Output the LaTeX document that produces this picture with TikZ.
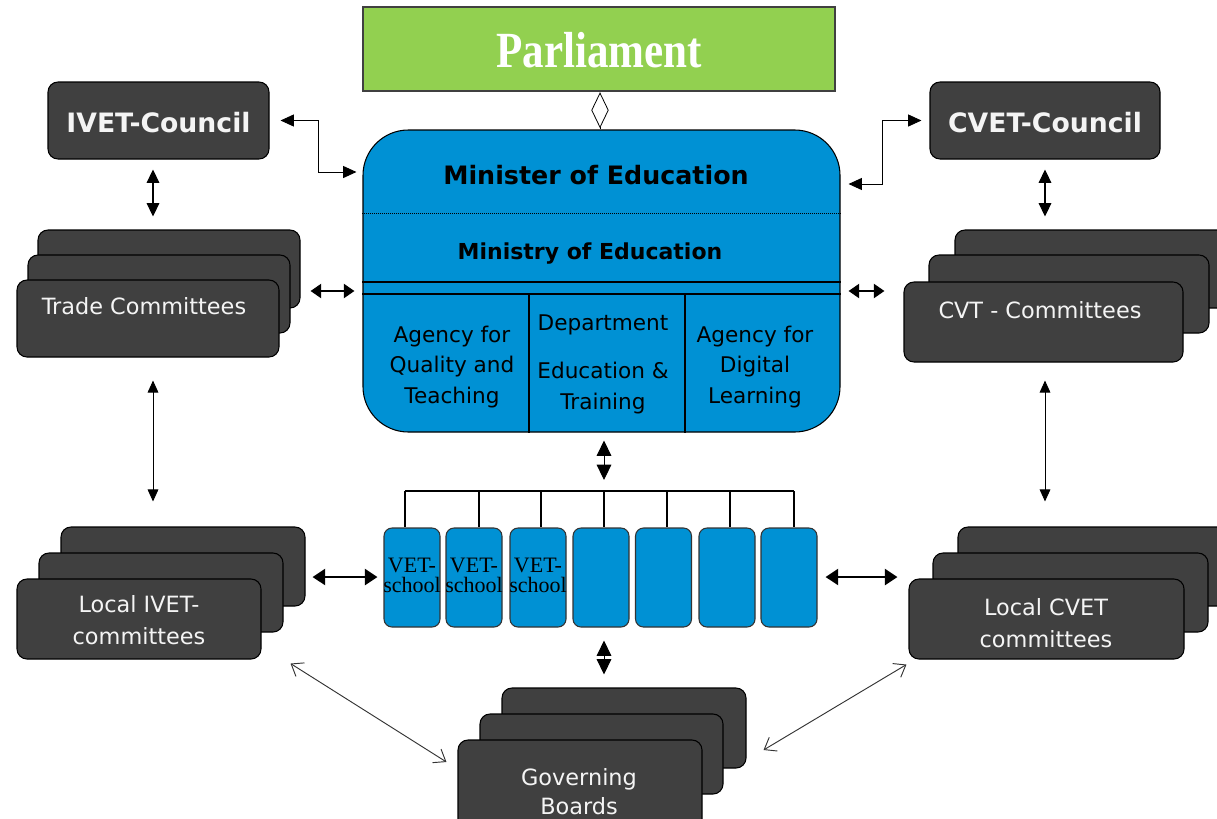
\documentclass[tikz,border=0pt]{standalone}
\usepackage{fontspec}
\usepackage{graphicx}
\usetikzlibrary{arrows.meta}
\newfontfamily\dvs{DejaVu Sans}
\newfontfamily\lserif{Liberation Serif}
\definecolor{dark}{HTML}{404040}
\definecolor{blu}{HTML}{0091D4}
\definecolor{grn}{HTML}{92D050}
\definecolor{wt}{HTML}{F4F4F4}
\begin{document}
\begin{tikzpicture}[x=0.75pt,y=-0.75pt,
  sz/.style 2 args={minimum width=#1*0.75pt, minimum height=#2*0.75pt},
  darkbox/.style={draw=black, line width=0.8pt, fill=dark, rounded corners=7.5pt, inner sep=0pt},
  vbox/.style={draw=black!80, line width=0.8pt, fill=blu, rounded corners=6pt, inner sep=0pt, minimum width=42pt, minimum height=74.25pt},
  wtxt/.style={text=wt, font=\dvs\fontsize{16.8}{24}\selectfont, align=center, inner sep=0pt},
  wbold/.style={text=wt, font=\dvs\bfseries\fontsize{20}{24}\selectfont, inner sep=0pt},
  btxt/.style={text=black, font=\dvs\fontsize{16.2}{23}\selectfont, align=center, inner sep=0pt},
  vtxt/.style={text=black, font=\lserif\fontsize{16.5}{15}\selectfont, align=center, inner sep=0pt},
  elb/.style={line width=0.7pt, arrows={Triangle[length=10pt,width=9pt]-Triangle[length=10pt,width=9pt]}},
  vdbl/.style={line width=0.8pt, arrows={Triangle[length=10pt,width=9.5pt]-Triangle[length=10pt,width=9.5pt]}},
  hdbl/.style={line width=1.8pt, arrows={Triangle[length=8pt,width=10.5pt]-Triangle[length=8pt,width=10.5pt]}},
  bigdbl/.style={line width=2pt, arrows={Triangle[length=9.5pt,width=12pt]-Triangle[length=9.5pt,width=12pt]}},
  thindbl/.style={line width=0.7pt, arrows={Triangle[length=9pt,width=8pt]-Triangle[length=9pt,width=8pt]}},
  mdbl/.style={line width=0.7pt, arrows={Triangle[length=11.5pt,width=11pt]-Triangle[length=11.5pt,width=11pt]}},
  oarr/.style={draw=black!80, line width=0.7pt, arrows={Straight Barb[length=8pt,width=12pt]-Straight Barb[length=8pt,width=12pt]}}
]
\useasboundingbox (0,0) rectangle (1217,818);
\clip (0,0) rectangle (1217,818);

% Parliament
\node[draw=black!75, line width=0.8pt, fill=grn, sz={472}{84}, inner sep=0pt] (parl) at (599,49) {};
\node[text=white, font=\lserif\bfseries\fontsize{38}{40}\selectfont, inner sep=0pt] (parlt) at (599,50) {\scalebox{0.85}[1]{Parliament}};

% Minister box
\node[draw=black, line width=0.8pt, fill=blu, rounded corners=34pt, sz={477}{302}, inner sep=0pt] (minister) at (601.5,281) {};
\draw[densely dotted, line width=0.5pt] (minister.west |- 0,213) -- (minister.east |- 0,213);
\draw[line width=0.8pt] (minister.west |- 0,282) -- (minister.east |- 0,282);
\draw[line width=0.8pt] (minister.west |- 0,294) -- (minister.east |- 0,294);
\draw[line width=0.8pt] (529,294) -- (minister.south -| 529,0);
\draw[line width=0.8pt] (685,294) -- (minister.south -| 685,0);
\node[text=black, font=\dvs\bfseries\fontsize{19}{22}\selectfont, inner sep=0pt] (mint) at (596,175) {Minister of Education};
\node[text=black, font=\dvs\bfseries\fontsize{16.5}{20}\selectfont, inner sep=0pt] (mint2) at (590,254) {Ministry of Education};
\node[btxt] (ag1) at (452,367) {Agency for\\Quality and\\Teaching};
\node[btxt] (dep) at (603,325) {Department};
\node[btxt] (dep2) at (603,388) {Education \&\\Training};
\node[btxt] (ag2) at (755,367) {Agency for\\Digital\\Learning};

% Councils
\node[darkbox, sz={221}{77}] (ivetc) at (158.5,120.5) {};
\node[wbold] (ivetct) at (158.5,123) {IVET-Council};
\node[darkbox, sz={230}{77}] (cvetc) at (1045,120.5) {};
\node[wbold] (cvetct) at (1045,123) {CVET-Council};

% Trade committees stack
\node[darkbox, sz={262}{78}] (tr3) at (169,269) {};
\node[darkbox, sz={262}{78}] (tr2) at (159,294) {};
\node[darkbox, sz={262}{77}] (tr1) at (148,318.5) {};
\node[wtxt] (trt) at (144,306) {Trade Committees};

% CVT committees stack
\node[darkbox, sz={285}{78}] (cv3) at (1097.5,269) {};
\node[darkbox, sz={280}{78}] (cv2) at (1069,294) {};
\node[darkbox, sz={279}{80}] (cv1) at (1043.5,322) {};
\node[wtxt] (cvt) at (1040,310) {CVT - Committees};

% Local IVET stack
\node[darkbox, sz={244}{79}] (li3) at (183,566.5) {};
\node[darkbox, sz={244}{79}] (li2) at (161,592.5) {};
\node[darkbox, sz={244}{80}] (li1) at (139,619) {};
\node[wtxt] (lit) at (139,620) {Local IVET-\\committees};

% Local CVET stack
\node[darkbox, sz={285}{79}] (lc3) at (1100.5,566.5) {};
\node[darkbox, sz={275}{79}] (lc2) at (1070.5,592.5) {};
\node[darkbox, sz={275}{80}] (lc1) at (1046.5,619) {};
\node[wtxt] (lct) at (1046,623) {Local CVET\\committees};

% Governing boards stack
\node[darkbox, sz={244}{80}] (g3) at (624,728) {};
\node[darkbox, sz={243}{80}] (g2) at (601.5,754) {};
\node[darkbox, sz={244}{100}] (g1) at (580,790) {};
\node[wtxt, font=\dvs\fontsize{16.8}{21.75}\selectfont] (gt) at (579,791.5) {Governing\\Boards};

% VET schools
\node[vbox] (v1) at (412,577.5) {};
\node[vbox] (v2) at (474,577.5) {};
\node[vbox] (v3) at (538,577.5) {};
\node[vbox] (v4) at (601,577.5) {};
\node[vbox] (v5) at (663.5,577.5) {};
\node[vbox] (v6) at (727,577.5) {};
\node[vbox] (v7) at (789,577.5) {};
\node[vtxt] (v1t) at (412,575) {VET-\\school};
\node[vtxt] (v2t) at (474,575) {VET-\\school};
\node[vtxt] (v3t) at (538,575) {VET-\\school};

% bus
\coordinate (busL) at (405,491);
\coordinate (busR) at (794,491);
\draw[line width=0.8pt] (busL) -- (busR);
\foreach \x/\i in {405/1,479/2,541/3,604/4,667/5,730/6,794/7}
  \draw[line width=0.8pt] (\x,491) -- (v\i.north -| \x,0);

% connectors
\draw[line width=0.6pt, arrows={Diamond[open,length=27pt,width=13pt]-}, shorten <=0.5pt] (parl.south -| 600,0) -- (minister.north -| 600,0);
\draw[elb, shorten <=8.25pt, shorten >=4.5pt] (ivetc.east) -- ++(49,0) |- (minister.west |- 0,172);
\draw[elb, shorten <=6pt, shorten >=6pt] (minister.east |- 0,184) -- ++(42,0) |- (cvetc.west);
\draw[vdbl, shorten <=7.5pt, shorten >=9.75pt] (ivetc.south -| 153,0) -- (tr3.north -| 153,0);
\draw[vdbl, shorten <=7.5pt, shorten >=9.75pt] (cvetc.south -| 1045,0) -- (cv3.north -| 1045,0);
\draw[hdbl, shorten <=7.5pt, shorten >=6pt] (tr3.east |- 0,291) -- (minister.west |- 0,291);
\draw[hdbl, shorten <=6pt, shorten >=14.25pt] (minister.east |- 0,291) -- (cv1.west |- 0,291);
\draw[thindbl, shorten <=17.25pt, shorten >=18.75pt] (tr1.south -| 153,0) -- (li3.north -| 153,0);
\draw[thindbl, shorten <=13.5pt, shorten >=18.75pt] (cv1.south -| 1045,0) -- (lc3.north -| 1045,0);
\draw[mdbl, shorten <=6pt, shorten >=8.25pt] (minister.south -| 604,0) -- (busL -| 604,0);
\draw[mdbl, shorten <=9.75pt, shorten >=9.75pt] (v4.south -| 604,0) -- (g3.north -| 604,0);
\draw[bigdbl, shorten <=5.25pt, shorten >=4.5pt] (li3.east |- 0,577) -- (v1.west |- 0,577);
\draw[bigdbl, shorten <=6pt, shorten >=8.25pt] (v7.east |- 0,577) -- (lc1.west |- 0,577);
\draw[oarr] ([xshift=21.75pt,yshift=-3pt]li1.south east) -- ([xshift=-8.25pt,yshift=21pt]g1.west);
\draw[oarr] ([xshift=-1.5pt,yshift=-3.75pt]lc1.south west) -- ([xshift=12.75pt,yshift=-16.5pt]g3.east);
\end{tikzpicture}
\end{document}
